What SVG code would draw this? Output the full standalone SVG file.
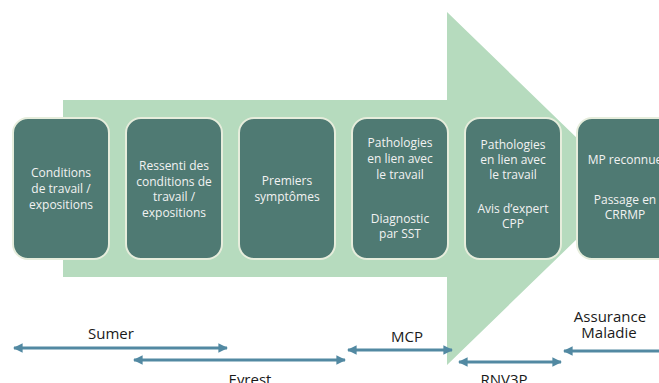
<svg xmlns="http://www.w3.org/2000/svg" width="659" height="383" viewBox="0 0 659 383">
<defs>
<style>
.box{fill:#4f7a73;stroke:#e6eddc;stroke-width:2}
.bt{font-family:"Open Sans","Liberation Sans",sans-serif;font-size:12px;fill:#f2f2f2;text-anchor:middle}
.lb{font-family:"Open Sans","Liberation Sans",sans-serif;font-size:15px;fill:#1a1a1a;text-anchor:middle}
.ar{stroke:#5289a2;stroke-width:3;fill:none;marker-start:url(#hs);marker-end:url(#he)}
</style>
<marker id="he" viewBox="0 0 10 10" refX="9" refY="5" markerWidth="3.6" markerHeight="3.2" orient="auto" markerUnits="strokeWidth"><path d="M0,0 L10,5 L0,10 z" fill="#5289a2"/></marker>
<marker id="hs" viewBox="0 0 10 10" refX="1" refY="5" markerWidth="3.6" markerHeight="3.2" orient="auto" markerUnits="strokeWidth"><path d="M10,0 L0,5 L10,10 z" fill="#5289a2"/></marker>
</defs>
<rect width="659" height="383" fill="#ffffff"/>
<g id="bigArrow">
<path d="M63,100 L447,100 L447,12 L629,188.5 L447,365 L447,277 L63,277 z" fill="#b6dbbe"/>
</g>
<g id="box1"><rect class="box" x="13" y="118" width="96" height="141" rx="15"/>
<text class="bt" x="61" y="177">Conditions</text><text class="bt" x="61" y="193">de travail /</text><text class="bt" x="61" y="209">expositions</text></g>
<g id="box2"><rect class="box" x="126" y="118" width="96" height="141" rx="15"/>
<text class="bt" x="174" y="170">Ressenti des</text><text class="bt" x="174" y="185.5">conditions de</text><text class="bt" x="174" y="201">travail /</text><text class="bt" x="174" y="216.5">expositions</text></g>
<g id="box3"><rect class="box" x="239" y="118" width="96" height="141" rx="15"/>
<text class="bt" x="287" y="185">Premiers</text><text class="bt" x="287" y="200.5">symptômes</text></g>
<g id="box4"><rect class="box" x="352" y="118" width="96" height="141" rx="15"/>
<text class="bt" x="400" y="147">Pathologies</text><text class="bt" x="400" y="163">en lien avec</text><text class="bt" x="400" y="179">le travail</text><text class="bt" x="400" y="223">Diagnostic</text><text class="bt" x="400" y="238">par SST</text></g>
<g id="box5"><rect class="box" x="465" y="118" width="96" height="141" rx="15"/>
<text class="bt" x="513" y="149">Pathologies</text><text class="bt" x="513" y="164">en lien avec</text><text class="bt" x="513" y="179">le travail</text><text class="bt" x="513" y="213">Avis d’expert</text><text class="bt" x="513" y="228">CPP</text></g>
<g id="box6"><rect class="box" x="577" y="118" width="96" height="141" rx="15"/>
<text class="bt" x="625" y="164">MP reconnue</text><text class="bt" x="625" y="204">Passage en</text><text class="bt" x="625" y="219">CRRMP</text></g>
<g id="connectors">
<line class="ar" x1="14" y1="348" x2="227" y2="348"/>
<line class="ar" x1="134" y1="360" x2="345" y2="360"/>
<line class="ar" x1="348" y1="350" x2="452" y2="350"/>
<line class="ar" x1="459" y1="362" x2="561" y2="362"/>
<line class="ar" x1="564" y1="351" x2="680" y2="351"/>
</g>
<g id="labels">
<text class="lb" x="111" y="339">Sumer</text>
<text class="lb" x="250" y="385">Evrest</text>
<text class="lb" x="407" y="342">MCP</text>
<text class="lb" x="504" y="385">RNV3P</text>
<text class="lb" x="610" y="322">Assurance</text>
<text class="lb" x="609" y="338">Maladie</text>
</g>
</svg>
